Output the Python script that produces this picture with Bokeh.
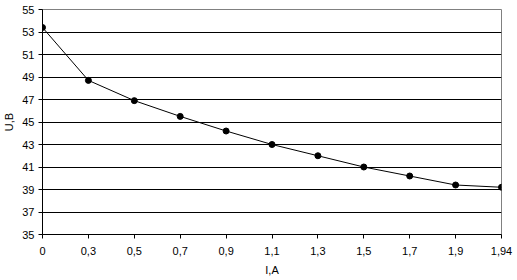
from bokeh.plotting import figure
from bokeh.models import FixedTicker, Range1d
from bokeh.embed import file_html
from bokeh.resources import INLINE

categories = ["0", "0,3", "0,5", "0,7", "0,9", "1,1", "1,3", "1,5", "1,7", "1,9", "1,94"]
voltage = [53.4, 48.7, 46.9, 45.5, 44.2, 43.0, 42.0, 41.0, 40.2, 39.4, 39.2]
y_ticks = [35, 37, 39, 41, 43, 45, 47, 49, 51, 53, 55]

xs = list(range(len(categories)))

p = figure(width=517, height=280, output_backend="svg", toolbar_location=None,
           x_range=Range1d(0, len(categories) - 1), y_range=Range1d(35, 55),
           min_border_left=42, min_border_right=16, min_border_top=9, min_border_bottom=46)

p.line(xs, voltage, line_color="black", line_width=1)
p.scatter(xs, voltage, size=6, color="black", marker="circle")

FONT = "Liberation Sans"
for ax in (p.xaxis[0], p.yaxis[0]):
    ax.axis_line_color = "black"
    ax.major_tick_line_color = "black"
    ax.major_tick_out = 4
    ax.major_tick_in = 0
    ax.minor_tick_line_color = None
    ax.major_label_text_font = FONT
    ax.major_label_text_font_size = "11px"
    ax.major_label_text_color = "black"
    ax.axis_label_text_font = FONT
    ax.axis_label_text_font_size = "11px"
    ax.axis_label_text_font_style = "normal"
    ax.axis_label_text_color = "black"

p.xaxis.ticker = FixedTicker(ticks=xs)
p.xaxis.major_label_overrides = {i: c for i, c in enumerate(categories)}
p.xaxis.axis_label = "I,A"
p.xaxis.major_label_standoff = 8
p.xaxis.axis_label_standoff = 6

p.yaxis.ticker = FixedTicker(ticks=y_ticks)
p.yaxis.axis_label = "U,B"
p.yaxis.major_label_standoff = 4
p.yaxis.axis_label_standoff = 4

p.xgrid.grid_line_color = None
p.ygrid.ticker = FixedTicker(ticks=y_ticks[1:-1])
p.ygrid.grid_line_color = "black"
p.ygrid.grid_line_width = 1

p.outline_line_color = "#808080"
p.outline_line_width = 1
p.background_fill_color = "white"
p.border_fill_color = "white"

open("out.html", "w").write(file_html(p, INLINE))
